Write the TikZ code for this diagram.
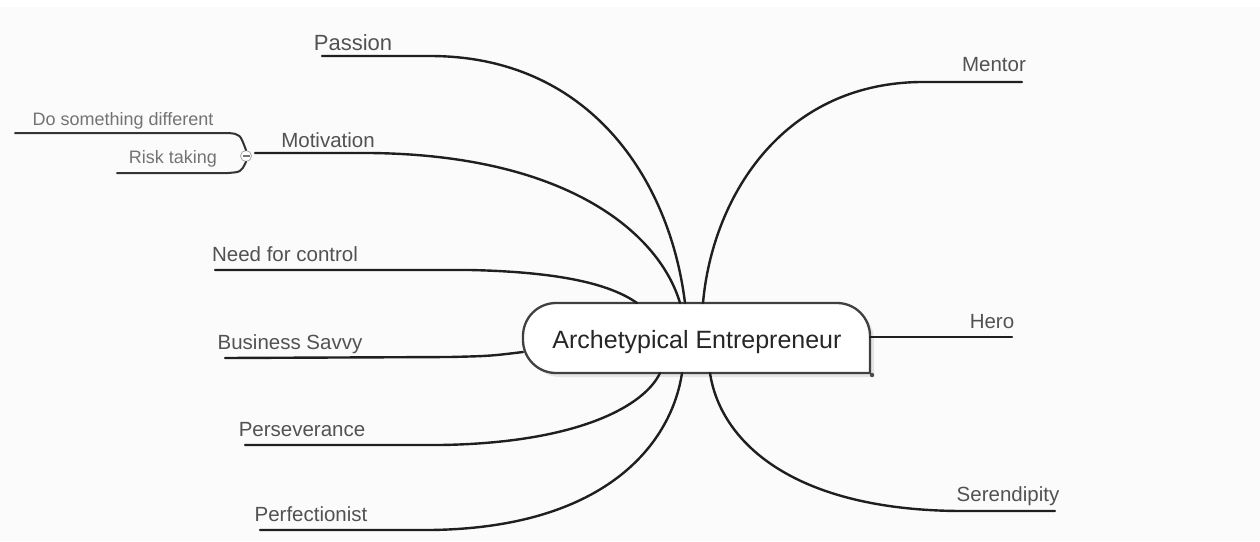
\documentclass[tikz,border=0pt]{standalone}
\usepackage{fontspec}
\setmainfont{Liberation Sans}
\begin{document}
\begin{tikzpicture}[x=1pt,y=-1pt,
  branch/.style={draw=black!88,line width=2.4pt,line cap=round},
  twig/.style={draw=black!80,line width=2pt,line cap=round},
  lbl/.style={anchor=base,inner sep=0pt,text=black!68,font=\fontsize{20.5}{24}\selectfont},
  small/.style={anchor=base,inner sep=0pt,text=black!55,font=\fontsize{18}{22}\selectfont},
  hub/.style={draw=black!75,line width=2.3pt,fill=white}]
% canvas
\fill[black!1.5] (0,0) rectangle (1260,541);
\fill[white] (0,0) rectangle (1260,7);
\useasboundingbox (0,0) rectangle (1260,541);

% central topic: rounded on three corners, square at bottom right
\fill[black!10] (874,344) [rounded corners=33] -- (874,307) -- (527,307) -- (527,377) [sharp corners] -- (874,377) -- cycle;
\path[hub] (870,340) [rounded corners=33] -- (870,303) -- (523,303) -- (523,373) [sharp corners] -- (870,373) -- cycle;
\fill[black!70] (872,375) circle (2.2pt);
\node[inner sep=0pt,anchor=base,text=black!85,font=\fontsize{25}{29}\selectfont] (c) at (697,348) {Archetypical Entrepreneur};

% attachment points on the central topic
\coordinate (cPas) at (685,303);
\coordinate (cMot) at (680,303);
\coordinate (cNee) at (637,303);
\coordinate (cBus) at (523,352);
\coordinate (cPer) at (660,373);
\coordinate (cPrf) at (682,373);
\coordinate (cMen) at (703,303);
\coordinate (cHer) at (870,337);
\coordinate (cSer) at (710,373);

% labels
\node[lbl,font=\fontsize{22}{26}\selectfont] (tPas) at (353,50) {Passion};
\node[lbl] (tMot) at (328,147) {Motivation};
\node[lbl] (tNee) at (285,261) {Need for control};
\node[lbl] (tBus) at (290,349) {Business Savvy};
\node[lbl] (tPer) at (302,436) {Perseverance};
\node[lbl] (tPrf) at (311,521) {Perfectionist};
\node[lbl] (tMen) at (994,71) {Mentor};
\node[lbl] (tHer) at (992,328) {Hero};
\node[lbl] (tSer) at (1008,501) {Serendipity};
\node[small] (tDo) at (123,125) {Do something different};
\node[small] (tRis) at (173,163) {Risk taking};

% underline ends
\coordinate (uPas) at (322,56);
\coordinate (uMot) at (255,153);
\coordinate (uNee) at (215,270);
\coordinate (uBus) at (225,358);
\coordinate (uPer) at (245,445);
\coordinate (uPrf) at (260,530);
\coordinate (uMen) at (1022,82);
\coordinate (uHer) at (1012,337);
\coordinate (uSer) at (1055,511);
\coordinate (uDo) at (15,133);
\coordinate (uRis) at (117,173);

% main branches
\draw[branch] (uPas) -- (430,56) .. controls (590,56) and (670,180) .. (cPas);
\draw[branch] (uMot) -- (370,153) .. controls (570,155) and (660,235) .. (cMot);
\draw[branch] (uNee) -- (470,270) .. controls (560,272) and (610,284) .. (cNee);
\draw[branch] (uBus) -- (450,357) .. controls (490,356) .. (cBus);
\draw[branch] (uPer) -- (440,445) .. controls (580,443) and (645,405) .. (cPer);
\draw[branch] (uPrf) -- (430,530) .. controls (610,528) and (672,440) .. (cPrf);
\draw[branch] (uMen) -- (920,82) .. controls (780,84) and (712,200) .. (cMen);
\draw[branch] (cHer) -- (uHer);
\draw[branch] (uSer) -- (960,511) .. controls (790,510) and (720,440) .. (cSer);

% collapse handle of the Motivation sub-branches
\node[circle,draw=black!35,fill=white,minimum size=11pt,inner sep=0pt,line width=0.8pt] (knob) at (246,156) {};
\draw[black!55,line width=1.2pt] (242.5,156) -- (249.5,156);
\draw[twig] (uDo) -- (228,133) .. controls (240,134) .. (knob.north);
\draw[twig] (uRis) -- (228,173) .. controls (241,172) .. (knob.south);
\end{tikzpicture}
\end{document}
